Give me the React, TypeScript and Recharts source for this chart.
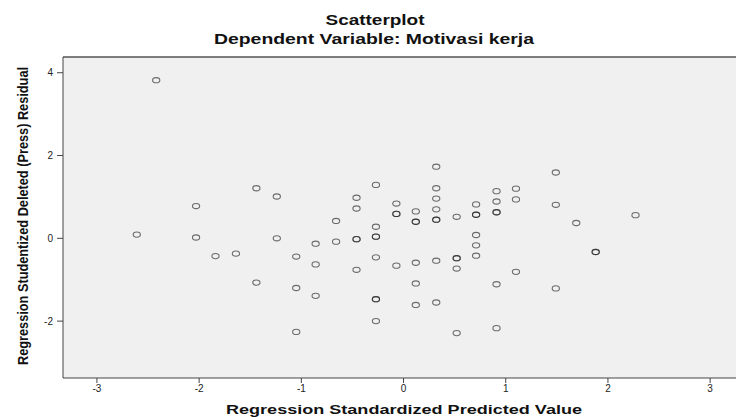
import React from 'react';
import { ScatterChart, Scatter, XAxis, YAxis, CartesianGrid, ReferenceLine } from 'recharts';

// Regression Standardized Predicted Value (x) and Studentized Deleted (Press) Residual (y)
// repeated pairs are cases that sit on top of each other in the plot
const predicted = [
  -2.42, -2.61, -2.03, -2.03, -1.84, -1.64, -1.44, -1.44, -1.24, -1.24,
  -1.05, -1.05, -1.05, -0.86, -0.86, -0.86, -0.66, -0.66,
  -0.46, -0.46, -0.46, -0.46, -0.46,
  -0.27, -0.27, -0.27, -0.27, -0.27, -0.27, -0.27, -0.27,
  -0.07, -0.07, -0.07, -0.07,
  0.12, 0.12, 0.12, 0.12, 0.12, 0.12,
  0.32, 0.32, 0.32, 0.32, 0.32, 0.32, 0.32, 0.32,
  0.52, 0.52, 0.52, 0.52, 0.52,
  0.71, 0.71, 0.71, 0.71, 0.71, 0.71,
  0.91, 0.91, 0.91, 0.91, 0.91, 0.91,
  1.10, 1.10, 1.10, 1.49, 1.49, 1.49, 1.69, 1.88, 1.88, 2.27,
];
const residual = [
  3.82, 0.09, 0.78, 0.02, -0.43, -0.37, 1.21, -1.07, 1.01, 0.0,
  -0.44, -1.2, -2.26, -0.13, -0.63, -1.39, 0.42, -0.08,
  0.98, 0.72, -0.02, -0.02, -0.76,
  1.29, 0.28, 0.04, 0.04, -0.46, -1.47, -1.47, -2.0,
  0.84, 0.59, 0.59, -0.66,
  0.65, 0.4, 0.4, -0.59, -1.09, -1.61,
  1.73, 1.21, 0.96, 0.7, 0.45, 0.45, -0.54, -1.55,
  0.52, -0.48, -0.48, -0.73, -2.29,
  0.82, 0.57, 0.57, 0.08, -0.17, -0.42,
  1.14, 0.89, 0.63, 0.63, -1.11, -2.17,
  1.2, 0.94, -0.81, 1.59, 0.81, -1.21, 0.37, -0.33, -0.33, 0.56,
];

const xTicks = [-3, -2, -1, 0, 1, 2, 3];
const yTicks = [-2, 0, 2, 4];
const xDomain = [-3.332, 3.253];
const yDomain = [-3.374, 4.38];

const points = predicted.map((x, i) => ({ x, y: residual[i] }));

const font = "Arial, 'Liberation Sans', sans-serif";

const Ring = (props: any) => (
  <ellipse
    cx={props.cx}
    cy={props.cy}
    rx={3.6}
    ry={2.6}
    fill="none"
    stroke="#1a1a1a"
    strokeOpacity={0.62}
    strokeWidth={1.1}
  />
);

const App: React.FC = () => {
  return (
    <div style={{ position: 'fixed', left: 0, top: 0, width: 736, height: 417, background: '#fff' }}>
      <ScatterChart width={736} height={417} margin={{ top: 57, right: 0, bottom: 0, left: 0 }}>
        <CartesianGrid fill="#f0f0f0" horizontal={false} vertical={false} />
        <XAxis
          type="number"
          dataKey="x"
          domain={xDomain}
          ticks={xTicks}
          allowDataOverflow
          height={39}
          tickSize={5}
          tickMargin={2}
          axisLine={{ stroke: '#444' }}
          tickLine={{ stroke: '#444' }}
          tick={{ fill: '#222', fontSize: 10, fontFamily: font }}
        />
        <YAxis
          type="number"
          dataKey="y"
          domain={yDomain}
          ticks={yTicks}
          allowDataOverflow
          width={63}
          tickSize={6}
          tickMargin={4}
          axisLine={{ stroke: '#444' }}
          tickLine={{ stroke: '#444' }}
          tick={{ fill: '#222', fontSize: 10, fontFamily: font }}
        />
        <ReferenceLine y={yDomain[1]} stroke="#555" strokeWidth={1.5} />
        <Scatter data={points} shape={Ring} isAnimationActive={false} />
      </ScatterChart>
      <svg width={736} height={417} style={{ position: 'absolute', left: 0, top: 0, pointerEvents: 'none' }}>
        <g fontFamily={font} fontWeight="bold" fill="#111">
          <text x={375} y={25} fontSize={14} textAnchor="middle" textLength={99} lengthAdjust="spacingAndGlyphs">
            Scatterplot
          </text>
          <text x={374} y={43.5} fontSize={14} textAnchor="middle" textLength={320} lengthAdjust="spacingAndGlyphs">
            Dependent Variable: Motivasi kerja
          </text>
          <text x={404} y={414} fontSize={13} textAnchor="middle" textLength={356} lengthAdjust="spacingAndGlyphs">
            Regression Standardized Predicted Value
          </text>
          <text
            transform="translate(27.5,216) rotate(-90)"
            fontSize={14}
            textAnchor="middle"
            textLength={298}
            lengthAdjust="spacingAndGlyphs"
          >
            Regression Studentized Deleted (Press) Residual
          </text>
        </g>
      </svg>
    </div>
  );
};

export default App;
